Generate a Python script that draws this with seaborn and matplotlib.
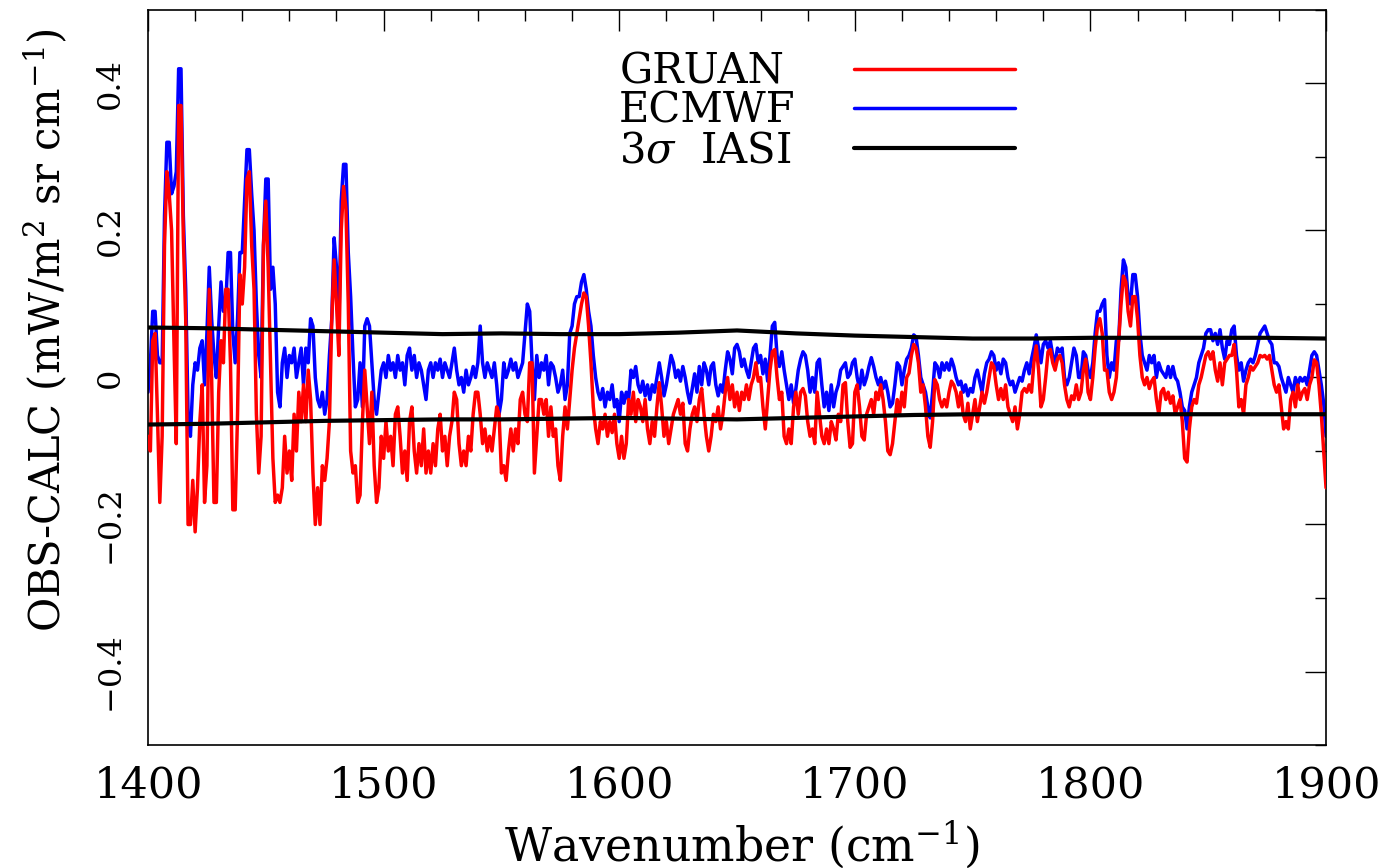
import numpy as np
import matplotlib
matplotlib.use("Agg")
import matplotlib.pyplot as plt
from matplotlib.lines import Line2D
import seaborn as sns
from matplotlib.ticker import MultipleLocator, FuncFormatter

# ---------------- data (1 cm-1 sampling) ----------------
WN_START, WN_END = 1400, 1900

ecmwf = [
    -0.02, 0.02, 0.09, 0.09, 0.03, 0.02, 0.02, 0.22, 0.32, 0.32,      # 1400
    0.25, 0.26, 0.28, 0.42, 0.42, 0.22, 0.12, -0.05, -0.08, -0.01,    # 1410
    0.02, 0.01, 0.04, 0.05, -0.01, 0.06, 0.15, 0.08, 0.03, 0.00,      # 1420
    0.07, 0.13, 0.09, 0.10, 0.17, 0.17, 0.06, 0.02, 0.08, 0.17,       # 1430
    0.17, 0.24, 0.31, 0.31, 0.25, 0.20, 0.10, 0.03, 0.00, 0.18,       # 1440
    0.27, 0.27, 0.12, 0.15, 0.10, -0.02, -0.04, 0.02, 0.04, 0.00,     # 1450
    0.03, 0.02, 0.04, 0.00, 0.02, 0.04, -0.01, 0.04, 0.02, 0.08,      # 1460
    0.07, 0.00, -0.03, -0.04, -0.02, -0.05, -0.03, 0.03, 0.08, 0.19,  # 1470
    0.15, 0.07, 0.24, 0.29, 0.29, 0.17, 0.11, 0.03, -0.04, -0.03,     # 1480
    0.02, -0.04, 0.07, 0.08, 0.07, 0.02, -0.03, -0.05, -0.02, 0.01,   # 1490
    0.02, 0.00, 0.03, 0.01, 0.02, 0.00, 0.03, 0.01, 0.02, -0.01,      # 1500
    0.03, 0.04, 0.01, 0.03, 0.00, 0.02, 0.01, -0.01, -0.03, 0.01,     # 1510
    0.02, 0.00, 0.02, 0.01, 0.025, 0.00, 0.02, 0.01, 0.00, 0.02,      # 1520
    0.04, 0.01, -0.01, 0.00, -0.02, 0.01, -0.01, 0.00, 0.015, 0.00,   # 1530
    0.02, 0.07, 0.02, 0.00, 0.02, 0.01, 0.00, 0.02, -0.01, -0.05,     # 1540
    -0.03, 0.02, 0.00, 0.01, 0.025, 0.01, 0.02, 0.00, 0.01, 0.02,     # 1550
    0.06, 0.10, 0.09, 0.02, -0.03, 0.03, 0.00, 0.02, 0.01, 0.03,      # 1560
    -0.01, 0.02, 0.015, 0.00, -0.02, -0.01, 0.01, -0.03, -0.01, 0.06, # 1570
    0.07, 0.10, 0.11, 0.11, 0.13, 0.14, 0.12, 0.09, 0.07, 0.03,       # 1580
    0.00, -0.02, -0.03, -0.015, -0.04, -0.02, -0.03, -0.01, -0.04, -0.03,  # 1590
    -0.06, -0.02, -0.035, -0.02, -0.03, 0.01, 0.00, 0.015, -0.01, -0.02,   # 1600
    -0.005, -0.025, -0.01, -0.03, -0.01, -0.02, 0.00, 0.02, 0.00, -0.025,  # 1610
    -0.01, 0.01, 0.03, 0.02, 0.00, 0.01, -0.005, 0.015, 0.00, -0.02,  # 1620
    -0.035, -0.015, 0.005, -0.02, 0.015, -0.01, 0.02, 0.01, -0.01, 0.015,  # 1630
    0.02, -0.01, -0.025, -0.01, -0.02, 0.01, 0.035, 0.025, 0.005, 0.04,    # 1640
    0.045, 0.035, 0.015, 0.025, 0.01, 0.00, 0.02, 0.04, 0.045, 0.02,  # 1650
    0.03, 0.005, 0.025, -0.005, 0.03, 0.07, 0.075, 0.03, 0.015, 0.035,     # 1660
    0.01, -0.01, -0.03, -0.01, -0.035, -0.015, 0.01, 0.025, 0.035, 0.03,   # 1670
    0.01, -0.02, 0.00, -0.02, 0.02, 0.025, -0.01, -0.04, -0.02, -0.045,    # 1680
    -0.01, -0.04, -0.02, -0.01, 0.01, 0.015, 0.02, 0.00, 0.005, 0.02,      # 1690
    0.025, 0.00, -0.015, 0.01, -0.01, 0.00, 0.015, 0.027, 0.015, 0.00,     # 1700
    -0.01, 0.00, -0.015, -0.005, -0.02, -0.04, -0.035, -0.01, 0.02, 0.015, # 1710
    -0.01, 0.01, 0.025, 0.03, 0.04, 0.058, 0.055, 0.03, 0.00, -0.01,       # 1720
    -0.02, -0.04, -0.055, -0.02, 0.02, 0.015, 0.00, 0.02, 0.01, 0.02,      # 1730
    0.01, 0.025, 0.015, 0.00, -0.01, -0.005, -0.02, -0.01, -0.025, -0.015, # 1740
    -0.02, 0.00, 0.01, -0.005, -0.02, 0.005, 0.02, 0.025, 0.035, 0.03,     # 1750
    0.01, 0.02, 0.005, 0.025, 0.02, 0.00, -0.01, -0.005, -0.02, -0.01,     # 1760
    0.00, -0.005, 0.01, 0.02, 0.005, 0.025, 0.04, 0.058, 0.04, 0.02,       # 1770
    0.045, 0.05, 0.04, 0.05, 0.03, 0.02, 0.04, 0.035, 0.04, 0.00,          # 1780
    -0.01, 0.00, 0.02, 0.04, 0.03, 0.00, 0.00, 0.035, 0.03, 0.01,          # 1790
    0.00, 0.02, 0.06, 0.09, 0.09, 0.10, 0.106, 0.03, 0.00, 0.02,           # 1800
    0.01, 0.05, 0.05, 0.12, 0.16, 0.15, 0.11, 0.10, 0.14, 0.14,            # 1810
    0.11, 0.06, 0.03, 0.02, 0.01, 0.03, 0.02, 0.03, 0.00, 0.02,            # 1820
    0.01, 0.005, 0.00, 0.015, 0.00, 0.015, 0.00, -0.005, -0.02, -0.04,     # 1830
    -0.045, -0.07, -0.04, -0.02, -0.01, 0.00, 0.02, 0.03, 0.04, 0.06,      # 1840
    0.065, 0.065, 0.05, 0.06, 0.045, 0.065, 0.04, 0.025, 0.05, 0.045,      # 1850
    0.065, 0.07, 0.03, 0.01, 0.02, -0.005, 0.01, 0.02, 0.025, 0.02,        # 1860
    0.03, 0.045, 0.06, 0.065, 0.07, 0.06, 0.05, 0.045, 0.02, 0.02,         # 1870
    0.015, 0.00, -0.01, -0.02, 0.00, -0.01, -0.02, 0.00, -0.01, 0.00,      # 1880
    -0.005, 0.00, -0.01, 0.01, 0.03, 0.035, 0.03, 0.01, -0.01, -0.035,     # 1890
    -0.08,                                                                  # 1900
]

gruan = [
    -0.08, -0.10, 0.05, 0.06, -0.05, -0.17, -0.08, 0.18, 0.28, 0.25,       # 1400
    0.20, 0.05, -0.09, 0.37, 0.37, 0.19, 0.08, -0.20, -0.20, -0.14,        # 1410
    -0.21, -0.15, -0.06, -0.01, -0.17, -0.12, 0.12, 0.00, -0.17, -0.17,    # 1420
    -0.02, 0.05, 0.02, 0.12, 0.12, 0.02, -0.18, -0.18, -0.05, 0.14,        # 1430
    0.10, 0.15, 0.27, 0.28, 0.18, 0.12, -0.05, -0.13, -0.08, 0.18,         # 1440
    0.24, 0.15, 0.02, -0.11, -0.17, -0.16, -0.17, -0.15, -0.08, -0.13,     # 1450
    -0.10, -0.14, -0.05, -0.10, -0.02, -0.06, -0.01, -0.06, 0.01, -0.03,   # 1460
    -0.13, -0.20, -0.15, -0.20, -0.12, -0.14, -0.11, -0.06, 0.08, 0.16,    # 1470
    0.10, 0.03, 0.20, 0.26, 0.23, 0.10, -0.10, -0.13, -0.12, -0.17,        # 1480
    -0.16, -0.06, 0.01, -0.04, -0.09, -0.02, -0.12, -0.17, -0.15, -0.08,   # 1490
    -0.11, -0.06, -0.10, -0.08, -0.12, -0.05, -0.04, -0.08, -0.13, -0.10,  # 1500
    -0.14, -0.06, -0.04, -0.10, -0.13, -0.09, -0.12, -0.07, -0.13, -0.10,  # 1510
    -0.13, -0.09, -0.12, -0.07, -0.05, -0.10, -0.08, -0.12, -0.08, -0.06,  # 1520
    -0.02, -0.03, -0.09, -0.12, -0.10, -0.12, -0.08, -0.10, -0.05, -0.02,  # 1530
    -0.02, -0.05, -0.09, -0.07, -0.10, -0.08, -0.10, -0.07, -0.04, -0.05,  # 1540
    -0.13, -0.12, -0.14, -0.10, -0.07, -0.10, -0.07, -0.09, -0.03, -0.02,  # 1550
    -0.05, -0.06, 0.02, 0.02, -0.13, -0.08, -0.03, -0.03, -0.05, -0.03,    # 1560
    -0.08, -0.04, -0.08, -0.07, -0.12, -0.14, -0.08, -0.04, -0.07, -0.03,  # 1570
    0.01, 0.04, 0.06, 0.08, 0.10, 0.115, 0.11, 0.07, 0.02, -0.04,          # 1580
    -0.07, -0.09, -0.06, -0.07, -0.05, -0.08, -0.06, -0.075, -0.05, -0.09, # 1590
    -0.11, -0.08, -0.11, -0.09, -0.03, -0.05, -0.02, -0.06, -0.03, -0.04,  # 1600
    -0.06, -0.03, -0.07, -0.09, -0.06, -0.08, -0.04, -0.007, -0.04, -0.08, # 1610
    -0.06, -0.09, -0.07, -0.05, -0.04, -0.03, -0.05, -0.035, -0.09, -0.10, # 1620
    -0.07, -0.05, -0.04, -0.06, -0.03, -0.015, -0.05, -0.08, -0.10, -0.08, # 1630
    -0.05, -0.06, -0.04, -0.07, -0.05, -0.02, 0.00, -0.03, -0.01, -0.04,   # 1640
    -0.02, -0.045, -0.02, -0.03, -0.01, -0.03, -0.01, 0.00, 0.02, -0.005,  # 1650
    0.00, -0.04, -0.07, -0.03, 0.01, 0.035, 0.038, 0.00, -0.03, -0.02,     # 1660
    -0.08, -0.09, -0.07, -0.09, -0.04, -0.02, -0.05, -0.02, -0.015, -0.025,  # 1670
    -0.06, -0.08, -0.07, -0.09, -0.02, -0.05, -0.08, -0.09, -0.07, -0.09,  # 1680
    -0.06, -0.07, -0.085, -0.05, -0.06, -0.01, -0.007, -0.06, -0.095, -0.09,  # 1690
    -0.02, -0.01, -0.04, -0.08, -0.085, -0.05, -0.04, -0.03, -0.05, -0.02, # 1700
    -0.03, -0.01, -0.03, -0.06, -0.10, -0.105, -0.09, -0.06, -0.03, -0.05, # 1710
    -0.02, -0.04, 0.00, 0.006, 0.03, 0.045, 0.04, 0.02, -0.02, -0.01,      # 1720
    -0.04, -0.08, -0.095, -0.06, -0.003, -0.01, -0.03, -0.04, -0.03, -0.04,  # 1730
    -0.02, -0.005, -0.01, -0.02, -0.04, -0.02, -0.05, -0.06, -0.035, -0.07,  # 1740
    -0.05, -0.03, -0.06, -0.04, -0.02, -0.035, -0.02, 0.00, 0.02, 0.015,   # 1750
    -0.01, -0.03, -0.015, -0.03, -0.01, -0.04, -0.05, -0.06, -0.04, -0.07, # 1760
    -0.05, -0.02, -0.015, -0.02, -0.01, -0.02, 0.02, 0.043, 0.01, -0.04,   # 1770
    -0.03, 0.00, 0.035, 0.038, 0.02, 0.01, 0.025, 0.03, 0.02, -0.01,       # 1780
    -0.03, -0.04, -0.025, -0.03, -0.01, -0.03, -0.02, 0.01, 0.025, -0.02,  # 1790
    -0.03, 0.00, 0.04, 0.07, 0.08, 0.06, 0.01, 0.01, -0.02, -0.03,         # 1800
    -0.02, 0.00, 0.05, 0.10, 0.138, 0.13, 0.09, 0.07, 0.11, 0.11,          # 1810
    0.08, 0.03, 0.00, -0.01, 0.00, -0.015, -0.005, 0.00, -0.03, -0.05,     # 1820
    -0.02, -0.015, -0.03, -0.02, -0.035, -0.025, -0.05, -0.04, -0.03, -0.06,  # 1830
    -0.11, -0.115, -0.07, -0.04, -0.03, -0.035, -0.01, 0.00, 0.015, 0.03,  # 1840
    0.035, 0.025, 0.035, 0.01, -0.005, 0.02, -0.01, 0.02, 0.025, 0.03,     # 1850
    0.03, 0.045, 0.01, -0.04, -0.03, -0.05, -0.01, 0.00, 0.015, 0.01,      # 1860
    0.015, 0.02, 0.03, 0.028, 0.03, 0.025, 0.03, 0.01, -0.01, -0.02,       # 1870
    -0.01, -0.04, -0.07, -0.06, -0.07, -0.03, -0.02, -0.04, -0.01, -0.03,  # 1880
    -0.02, -0.015, -0.03, -0.01, 0.00, 0.024, 0.02, -0.01, -0.05, -0.10,   # 1890
    -0.15,                                                                  # 1900
]

sigma_wn = [1400, 1425, 1450, 1475, 1500, 1525, 1550, 1575, 1600, 1625, 1650,
            1675, 1700, 1725, 1750, 1775, 1800, 1825, 1850, 1875, 1900]
sigma_upper = [0.068, 0.067, 0.065, 0.063, 0.061, 0.059, 0.060, 0.059, 0.059, 0.061, 0.064,
               0.060, 0.057, 0.055, 0.053, 0.053, 0.054, 0.054, 0.054, 0.054, 0.053]
sigma_lower = [-0.064, -0.063, -0.061, -0.059, -0.058, -0.057, -0.057, -0.056, -0.055, -0.056, -0.057,
               -0.055, -0.053, -0.051, -0.050, -0.050, -0.050, -0.050, -0.050, -0.050, -0.050]

legend_labels = ["GRUAN", "ECMWF", r"3$\sigma$  IASI"]

wn = np.arange(WN_START, WN_END + 1)
assert len(wn) == len(gruan) == len(ecmwf)

# ---------------- style ----------------
sns.set_theme(style="white")
plt.rcParams["font.family"] = ["DejaVu Serif"]
plt.rcParams["mathtext.fontset"] = "dejavuserif"
plt.rcParams["text.color"] = "black"
plt.rcParams["axes.labelcolor"] = "black"
plt.rcParams["xtick.color"] = "black"
plt.rcParams["ytick.color"] = "black"

fig = plt.figure(figsize=(13.82, 8.68), dpi=100)
ax = fig.add_axes([0.1071, 0.1417, 0.8524, 0.8468])

sns.lineplot(x=wn, y=ecmwf, color="#0000ff", lw=2.5, ax=ax, estimator=None, sort=False, zorder=2)
sns.lineplot(x=wn, y=gruan, color="#ff0000", lw=2.5, ax=ax, estimator=None, sort=False, zorder=3)
sns.lineplot(x=sigma_wn, y=sigma_upper, color="black", lw=3, ax=ax, estimator=None, sort=False, zorder=4)
sns.lineplot(x=sigma_wn, y=sigma_lower, color="black", lw=3, ax=ax, estimator=None, sort=False, zorder=4)

lines = ax.get_lines()
handles = [lines[1], lines[0], lines[2]]

ax.set_xlim(WN_START, WN_END)
ax.set_ylim(-0.5, 0.5)

ax.xaxis.set_major_locator(MultipleLocator(100))
ax.xaxis.set_minor_locator(MultipleLocator(20))
ax.yaxis.set_major_locator(MultipleLocator(0.2))
ax.yaxis.set_minor_locator(MultipleLocator(0.1))
ax.yaxis.set_major_formatter(FuncFormatter(
    lambda v, p: "0" if abs(v) < 1e-9 else (f"{v:.1f}".replace("-", "\u2212"))))

ax.tick_params(which="both", direction="in", top=True, right=True, colors="black")
ax.tick_params(which="major", length=15, width=1.0)
ax.tick_params(which="minor", length=8, width=1.0)
ax.tick_params(axis="x", labelsize=31, pad=14)
ax.tick_params(axis="y", labelsize=23, pad=16)
for lab in ax.get_yticklabels():
    lab.set_rotation(90)
    lab.set_va("center")

for s in ax.spines.values():
    s.set_color("black")
    s.set_linewidth(1.2)

ax.set_xlabel(r"Wavenumber (cm$^{-1}$)", fontsize=33, color="black")
ax.set_ylabel(r"OBS-CALC (mW/m$^{2}$ sr cm$^{-1}$)", fontsize=30, color="black")
ax.xaxis.set_label_coords(0.504, -0.10)
ax.yaxis.set_label_coords(-0.066, 0.565)

# legend: text column left-aligned, line samples in a column to its right
leg_kw = dict(loc="upper left", bbox_to_anchor=(0.400, 0.945), frameon=False,
              fontsize=30, labelspacing=-0.06, borderpad=0, borderaxespad=0)
blank = [Line2D([], [], alpha=0) for _ in handles]
leg_text = ax.legend(handles=blank, labels=legend_labels, handlelength=0,
                     handletextpad=0, labelcolor="black", **leg_kw)
ax.add_artist(leg_text)
leg_lines = ax.legend(handles=handles, labels=legend_labels, markerfirst=False,
                      handlelength=3.85, handletextpad=1.4, labelcolor="none", **leg_kw)
for t in leg_lines.get_texts():
    t.set_visible(False)   # spacing only; the visible labels come from leg_text

fig.savefig("out.png", dpi=100)
